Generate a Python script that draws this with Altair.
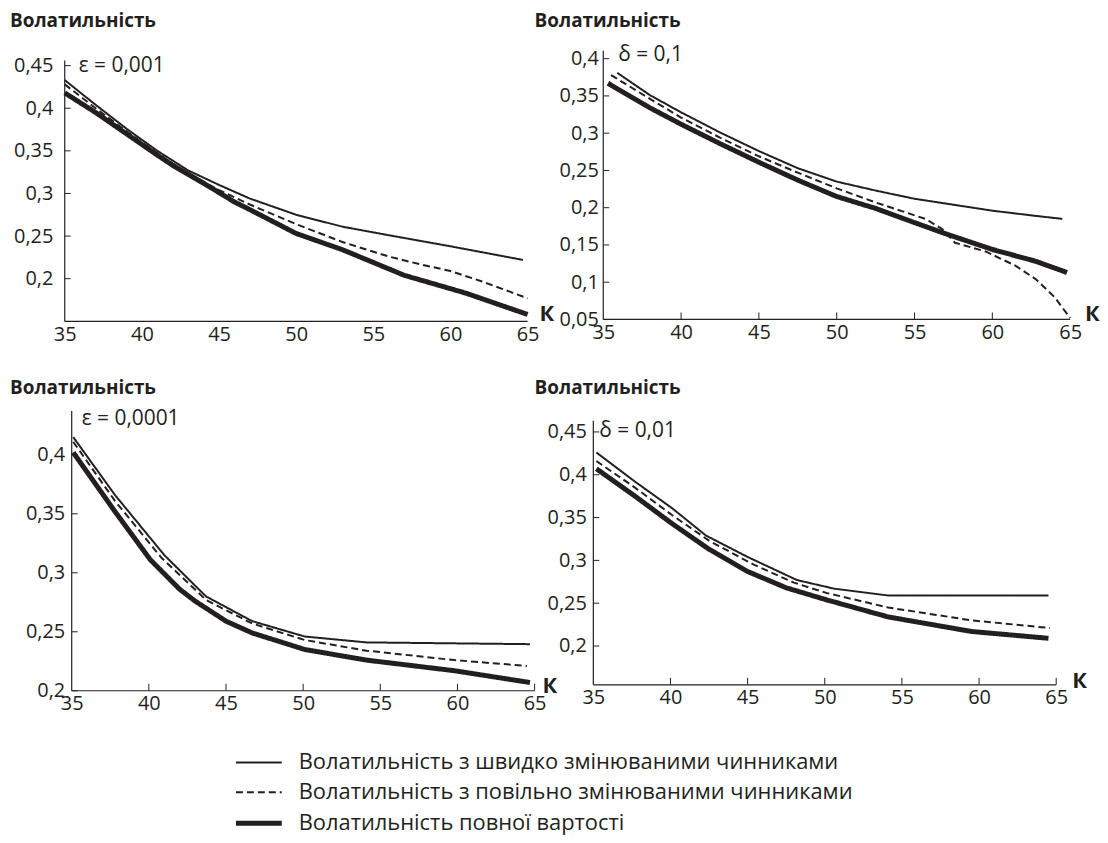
import altair as alt
import pandas as pd

INK = "#231f20"
FONT = "Open Sans"

SERIES = [
    "Волатильність з швидко змінюваними чинниками",
    "Волатильність з повільно змінюваними чинниками",
    "Волатильність повної вартості",
]
Y_TITLE = "Волатильність"
X_TITLE = "К"
X_LABELS = [35, 40, 45, 50, 55, 60, 65]

# Panel 1: ε = 0,001
p1_note = "ε = 0,001"
p1_fast_k = [35, 37, 39, 41, 43, 45, 47, 50, 53, 56, 60, 64.7]
p1_fast_v = [0.433, 0.404, 0.376, 0.350, 0.327, 0.310, 0.294, 0.275, 0.261, 0.251, 0.238, 0.222]
p1_slow_k = [35, 37, 39, 41, 43, 45, 47, 50, 53, 56, 58, 60, 62, 65]
p1_slow_v = [0.428, 0.400, 0.373, 0.347, 0.323, 0.304, 0.287, 0.264, 0.243, 0.226, 0.217, 0.209, 0.197, 0.177]
p1_full_k = [35, 37, 39, 41, 42, 44, 46, 47, 50, 53, 57, 61, 65]
p1_full_v = [0.418, 0.395, 0.370, 0.345, 0.333, 0.312, 0.290, 0.281, 0.253, 0.234, 0.204, 0.183, 0.158]
p1_yticks = [0.2, 0.25, 0.3, 0.35, 0.4, 0.45]
p1_xticks = []

# Panel 2: δ = 0,1
p2_note = "δ = 0,1"
p2_fast_k = [35.9, 38, 40, 42.5, 45, 47.5, 50, 52.5, 55, 57.5, 60, 62.8, 64.5]
p2_fast_v = [0.381, 0.351, 0.328, 0.301, 0.276, 0.253, 0.235, 0.223, 0.212, 0.204, 0.196, 0.189, 0.185]
p2_slow_k = [35.5, 38, 40, 42.5, 45, 47.5, 50, 52.5, 55.7, 56.8, 57.6, 59.6, 61.5, 62.8, 64, 65]
p2_slow_v = [0.378, 0.346, 0.321, 0.294, 0.269, 0.247, 0.226, 0.207, 0.185, 0.171, 0.153, 0.141, 0.122, 0.104, 0.080, 0.052]
p2_full_k = [35.3, 38, 40, 42.5, 45, 47.5, 50, 52.5, 55, 57, 60, 62.8, 64.8]
p2_full_v = [0.367, 0.334, 0.312, 0.286, 0.261, 0.237, 0.215, 0.199, 0.180, 0.165, 0.144, 0.128, 0.113]
p2_yticks = [0.05, 0.1, 0.15, 0.2, 0.25, 0.3, 0.35, 0.4]
p2_xticks = [40, 45, 50, 55, 60]

# Panel 3: ε = 0,0001
p3_note = "ε = 0,0001"
p3_fast_k = [35.1, 37.8, 41, 43.7, 46.7, 50.1, 54.1, 64.7]
p3_fast_v = [0.415, 0.366, 0.315, 0.280, 0.259, 0.246, 0.241, 0.2395]
p3_slow_k = [35.1, 37.8, 40.8, 43.7, 46.7, 50.1, 54.1, 59.8, 64.5]
p3_slow_v = [0.411, 0.361, 0.313, 0.277, 0.257, 0.243, 0.234, 0.226, 0.221]
p3_full_k = [35.1, 37.8, 40.1, 42, 43, 45, 46.7, 50.1, 54.1, 59.8, 64.7]
p3_full_v = [0.402, 0.352, 0.311, 0.286, 0.276, 0.259, 0.249, 0.235, 0.226, 0.217, 0.207]
p3_yticks = [0.2, 0.25, 0.3, 0.35, 0.4]
p3_xticks = [40, 45, 50, 55, 60, 65]

# Panel 4: δ = 0,01
p4_note = "δ = 0,01"
p4_fast_k = [35.2, 37.7, 40.1, 42.3, 45, 48.2, 50.6, 54.1, 64.5]
p4_fast_v = [0.426, 0.392, 0.361, 0.329, 0.304, 0.277, 0.267, 0.259, 0.259]
p4_slow_k = [35.2, 37.7, 40.1, 42.5, 45.4, 48, 50.1, 54.1, 59.5, 64.6]
p4_slow_v = [0.416, 0.385, 0.353, 0.323, 0.295, 0.274, 0.262, 0.245, 0.230, 0.221]
p4_full_k = [35.2, 37.7, 40.1, 42.5, 45, 47.5, 50.1, 54.1, 59.5, 64.5]
p4_full_v = [0.407, 0.375, 0.343, 0.313, 0.287, 0.268, 0.254, 0.234, 0.217, 0.209]
p4_yticks = [0.2, 0.25, 0.3, 0.35, 0.4, 0.45]
p4_xticks = [40, 45, 50, 55, 60, 65]

LABEL_EXPR = "replace(format(datum.value, '.2~f'), '.', ',')"
STYLES = {SERIES[0]: (2, [1, 0]), SERIES[1]: (2, [7, 4]), SERIES[2]: (5, [1, 0])}


def series_frame(ks, vs):
    rows = []
    for name, k_list, v_list in zip(SERIES, ks, vs):
        for k, v in zip(k_list, v_list):
            rows.append({"K": k, "vol": v, "series": name})
    return pd.DataFrame(rows)


def panel(df, note, yticks, xticks, xmin, ydom, ytop, width, height, off, lpad,
          title_xy, note_xy, k_gap, k_dy, legend=False):
    xs = alt.Scale(domain=[xmin, 65], nice=False, zero=False)
    ys = alt.Scale(domain=ydom, nice=False, zero=False)
    xax = alt.Axis(values=X_LABELS, domain=False, ticks=False, tickSize=0, grid=False,
                   labelFont=FONT, labelFontSize=20, labelColor=INK, labelPadding=3,
                   labelFlush=False, labelOverlap=False, title=None)
    yax = alt.Axis(values=yticks, domain=False, ticks=False, tickSize=0, grid=False,
                   labelFont=FONT, labelFontSize=20, labelColor=INK, labelPadding=lpad,
                   labelFlush=False, labelOverlap=False, labelExpr=LABEL_EXPR,
                   offset=-off, title=None)

    def X(f):
        return alt.X(f, scale=xs, axis=xax)

    def Y(f):
        return alt.Y(f, scale=ys, axis=yax)

    layers = []
    layers.append(alt.Chart(pd.DataFrame({"x": [35], "y1": [ydom[0]], "y2": [ytop]})).mark_rule(
        color=INK, strokeWidth=1.2).encode(x=X("x:Q"), y=Y("y1:Q"), y2="y2:Q"))
    layers.append(alt.Chart(pd.DataFrame({"x1": [35], "x2": [65], "y": [ydom[0]]})).mark_rule(
        color=INK, strokeWidth=1.2).encode(x=X("x1:Q"), x2="x2:Q", y=Y("y:Q")))
    layers.append(alt.Chart(pd.DataFrame({"x": [35] * len(yticks), "t": yticks})).mark_rule(
        color=INK, strokeWidth=1).encode(x=X("x:Q"), x2=alt.value(off + 6), y=Y("t:Q")))
    if xticks:
        layers.append(alt.Chart(pd.DataFrame({"t": xticks})).mark_rule(
            color=INK, strokeWidth=1).encode(x=X("t:Q"), y=alt.value(height), y2=alt.value(height - 7)))

    for name in SERIES:
        sw, dash = STYLES[name]
        layers.append(alt.Chart(df).transform_filter(alt.datum.series == name).mark_line(
            color=INK, strokeWidth=sw, strokeDash=dash, strokeCap="butt", strokeJoin="round").encode(
            x=X("K:Q"), y=Y("vol:Q"), order="K:Q"))

    layers.append(alt.Chart(pd.DataFrame({"t": [Y_TITLE]})).mark_text(
        font=FONT, fontSize=19, fontWeight="bold", color=INK, align="left", baseline="alphabetic").encode(
        text="t:N", x=alt.value(title_xy[0]), y=alt.value(title_xy[1])))
    layers.append(alt.Chart(pd.DataFrame({"t": [note]})).mark_text(
        font=FONT, fontSize=21, color=INK, align="left", baseline="middle").encode(
        text="t:N", x=alt.value(off + note_xy[0]), y=alt.value(note_xy[1])))
    layers.append(alt.Chart(pd.DataFrame({"t": [X_TITLE]})).mark_text(
        font=FONT, fontSize=22, fontWeight="bold", color=INK, align="left", baseline="middle").encode(
        text="t:N", x=alt.value(width + k_gap), y=alt.value(height + k_dy)))

    if legend:
        rows_y = [353, 383, 414]
        for name, yy in zip(SERIES, rows_y):
            sw, dash = STYLES[name]
            ldf = pd.DataFrame({"t": [name]})
            layers.append(alt.Chart(ldf).mark_rule(color=INK, strokeWidth=sw, strokeDash=dash, strokeCap="butt").encode(
                x=alt.value(172), x2=alt.value(218), y=alt.value(yy)))
            layers.append(alt.Chart(ldf).mark_text(font=FONT, fontSize=22, color=INK, align="left",
                                                   baseline="middle").encode(
                text="t:N", x=alt.value(235), y=alt.value(yy)))

    return alt.layer(*layers).properties(width=width, height=height)


df1 = series_frame([p1_fast_k, p1_slow_k, p1_full_k], [p1_fast_v, p1_slow_v, p1_full_v])
df2 = series_frame([p2_fast_k, p2_slow_k, p2_full_k], [p2_fast_v, p2_slow_v, p2_full_v])
df3 = series_frame([p3_fast_k, p3_slow_k, p3_full_k], [p3_fast_v, p3_slow_v, p3_full_v])
df4 = series_frame([p4_fast_k, p4_slow_k, p4_full_k], [p4_fast_v, p4_slow_v, p4_full_v])

c1 = panel(df1, p1_note, p1_yticks, p1_xticks, 35, [0.1498, 0.4675], 0.456, 465, 272, 0, 12,
           (-55, -24), (14, 15), 12, -7)
c2 = panel(df2, p2_note, p2_yticks, p2_xticks, 35 - 10 * 30 / 469, [0.05, 0.4107], 0.4107, 479, 270, 10, 5,
           (-59, -24), (15, 4), 15, -5)
c3 = panel(df3, p3_note, p3_yticks, p3_xticks, 35 - 7 * 30 / 465, [0.2, 0.4371], 0.4371, 472, 281, 7, 7,
           (-55, -17), (10, 8), 8, -5, legend=True)
c4 = panel(df4, p4_note, p4_yticks, p4_xticks, 35, [0.1547, 0.4744], 0.463, 465, 275, 0, 7,
           (-59, -17), (6, 20), 16, -4)

chart = alt.concat(c1, c2, c3, c4, columns=2, spacing={"row": 90, "column": 59}, bounds="flush").properties(
    padding={"left": 2, "top": 2, "right": 0, "bottom": 0},
    background="white",
).configure_view(stroke=None)

chart.save("out.html", embed_options={"renderer": "svg", "actions": False})
